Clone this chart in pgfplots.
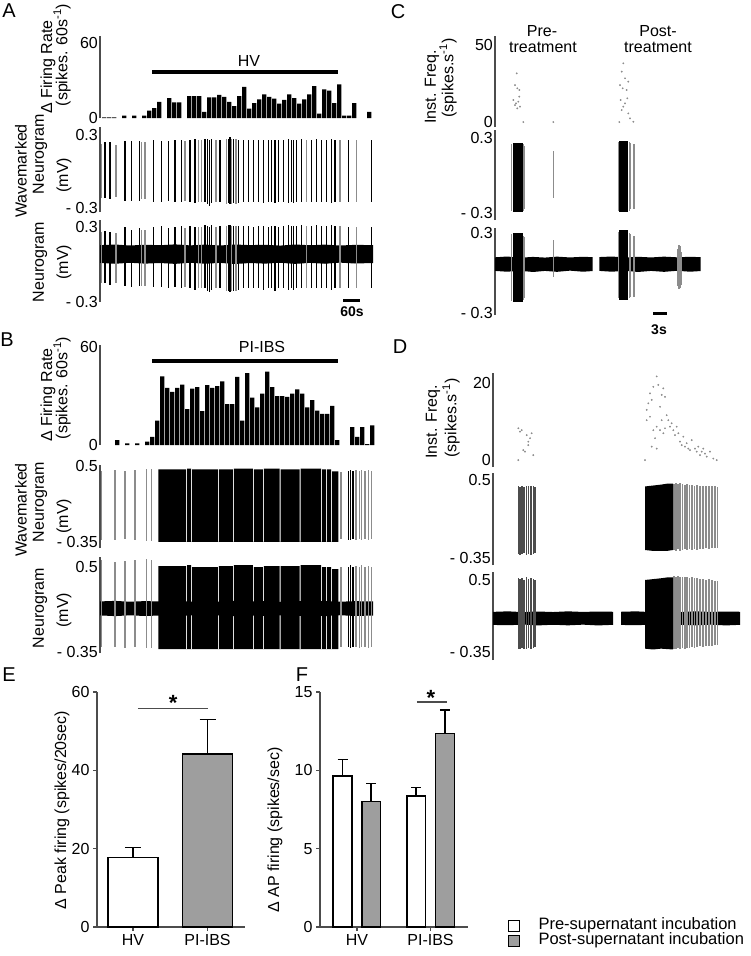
\documentclass[border=0pt]{standalone}
\usepackage{fontspec}
\setmainfont{Liberation Sans}
\usepackage{pgfplots}
\pgfplotsset{compat=1.18}
\usepackage{pgfplotstable}

\definecolor{postgray}{gray}{0.62}
\definecolor{spkgray}{gray}{0.55}
\definecolor{axgray}{gray}{0.3}

\pgfplotsset{
  every axis/.append style={font=\fontsize{16}{18}\selectfont},
  trace/.style={scale only axis, anchor=south west, axis x line=none, axis y line*=left,
    axis line style={line width=1.3pt, axgray}, major tick length=0pt,
    yticklabel style={inner sep=2pt}, /pgf/number format/assume math mode=true, xmin=0},
  spk/.style={ycomb, mark=none, line width=1.5pt, black},
  lspk/.style={ycomb, mark=none, line width=1.1pt, spkgray},
  band/.style={fill=black, draw=none},
  dots/.style={only marks, mark=*, mark size=0.7pt, spkgray},
  errb/.style={error bars/.cd, y dir=plus, y explicit, error mark=-,
    error mark options={rotate=90, mark size=#1, line width=1.5pt},
    error bar style={line width=1.5pt}},
}

% firing rate bins (x = time offset, h = spikes)
\pgfplotstableread{
t h
4.2 0.5
9.2 0.5
14.2 0.5
24.2 2
34.2 2
44.2 2
49.2 6
54.2 8
59.2 13
69.2 16
74.2 12.5
79.2 12.5
89.2 17.5
94.2 17.5
99.2 17.5
104.2 5
109.2 16.5
114.2 16.5
119.2 18.5
124.2 17
129.2 13
134.2 9.5
139.2 17.5
144.2 25
149.2 7.5
154.2 12
159.2 15
164.2 19
169.2 17
174.2 15.5
179.2 11.5
184.2 14.5
189.2 19
194.2 16
199.2 11.5
204.2 15
209.2 19
214.2 25.5
219.2 3.5
224.2 23
229.2 22
234.2 12
239.2 27
244.2 2
249.2 2
254.2 12
269.2 5
}\Arate

\pgfplotstableread{
t h
17.2 3
27.2 1
37.2 1
47.2 2
52.2 5
57.2 15
62.2 42
67.2 35
72.2 32.5
77.2 35
82.2 37
87.2 22
92.2 34.5
97.2 35.5
102.2 20.7
107.2 36.6
112.2 35
117.2 36
122.2 39
127.2 25
132.2 25
137.2 41.7
142.2 15
147.2 44
152.2 29
157.2 23
162.2 31.5
167.2 45
172.2 35.5
177.2 30
182.2 30
187.2 29.5
192.2 31.5
197.2 34
202.2 31.5
207.2 23
212.2 27.5
217.2 21
222.2 19
227.2 19
232.2 24
237.2 3
252.2 11
257.2 5
262.2 11
267.2 0.5
272.2 12
}\Brate

% spikes: wh/wl wavemarked top/bottom, nh/nl neurogram top/bottom
\pgfplotstableread{
t wh wl nh nl
5 0.24 -0.22 0.27 -0.15
10 0.24 -0.23 0.26 -0.16
25 0.25 -0.24 0.30 -0.17
31.7 0.25 -0.24 0.28 -0.18
39.3 0.25 -0.24 0.29 -0.17
53.3 0.26 -0.25 0.30 -0.18
61.7 0.25 -0.25 0.31 -0.18
68.3 0.25 -0.24 0.29 -0.19
75 0.26 -0.25 0.30 -0.18
81.7 0.26 -0.25 0.31 -0.19
90 0.26 -0.25 0.31 -0.19
95 0.27 -0.26 0.30 -0.20
105 0.27 -0.25 0.32 -0.19
107.3 0.27 -0.27 0.31 -0.21
109.3 0.26 -0.28 0.30 -0.22
111.7 0.27 -0.26 0.32 -0.20
120 0.26 -0.25 0.31 -0.19
128.3 0.27 -0.26 0.32 -0.21
130 0.28 -0.27 0.32 -0.22
133.3 0.27 -0.26 0.31 -0.21
138.3 0.26 -0.26 0.31 -0.20
143.3 0.26 -0.25 0.31 -0.19
148.3 0.26 -0.25 0.31 -0.19
153.3 0.26 -0.25 0.30 -0.19
158.3 0.26 -0.25 0.31 -0.19
163.3 0.26 -0.26 0.31 -0.20
168.3 0.26 -0.25 0.30 -0.19
171.7 0.26 -0.25 0.31 -0.19
175 0.26 -0.26 0.31 -0.21
178.3 0.26 -0.25 0.30 -0.19
183.3 0.26 -0.25 0.31 -0.19
188.3 0.27 -0.26 0.32 -0.20
191.7 0.26 -0.25 0.31 -0.19
193.3 0.26 -0.26 0.31 -0.20
196.7 0.26 -0.25 0.31 -0.19
201.7 0.27 -0.25 0.32 -0.19
211.7 0.26 -0.25 0.31 -0.19
216.7 0.27 -0.25 0.32 -0.19
221.7 0.26 -0.25 0.31 -0.19
226.7 0.26 -0.25 0.31 -0.19
231.7 0.27 -0.26 0.32 -0.20
235 0.26 -0.25 0.31 -0.19
248.3 0.26 -0.25 0.30 -0.19
271.7 0.26 -0.25 0.30 -0.19
}\Aspk

\pgfplotstableread{
t wh wl nh nl
1.7 0.23 -0.22 0.26 -0.15
16 0.22 -0.21 0.25 -0.15
41.7 0.24 -0.23 0.28 -0.17
45 0.24 -0.23 0.28 -0.17
85 0.25 -0.24 0.29 -0.18
98.3 0.26 -0.25 0.30 -0.19
101.7 0.26 -0.25 0.30 -0.19
116 0.26 -0.25 0.30 -0.19
126.7 0.27 -0.27 0.31 -0.21
131.7 0.27 -0.27 0.31 -0.21
136 0.27 -0.27 0.31 -0.21
206.7 0.26 -0.25 0.31 -0.19
240 0.26 -0.25 0.31 -0.19
256.7 0.26 -0.25 0.30 -0.19
}\Alt

\pgfplotstableread{
t wh wl nh nl
1.7 0.44 -0.33 0.57 -0.30
15 0.45 -0.33 0.55 -0.30
25 0.44 -0.32 0.56 -0.31
35 0.45 -0.33 0.57 -0.30
46.7 0.46 -0.34 0.58 -0.31
51.7 0.46 -0.34 0.57 -0.31
241 0.43 -0.32 0.50 -0.30
256 0.45 -0.33 0.51 -0.30
259.3 0.44 -0.32 0.50 -0.31
261.7 0.45 -0.33 0.52 -0.30
265 0.44 -0.32 0.50 -0.30
268.3 0.45 -0.33 0.51 -0.31
271.7 0.44 -0.32 0.50 -0.30
}\Blt

\pgfplotstableread{
t wh wl nh nl
248.3 0.44 -0.33 0.50 -0.30
250.5 0.45 -0.33 0.52 -0.31
253 0.44 -0.32 0.50 -0.30
}\Bspk

\pgfplotstableread{
t wh wl nh nl
16.9 0.25 -0.28 0.29 -0.21
28.5 0.25 -0.28 0.28 -0.20
29.5 0.24 -0.27 0.27 -0.19
58.3 0.20 -0.18 0.25 -0.03
123.5 0.27 -0.28 0.31 -0.19
134.2 0.27 -0.28 0.30 -0.19
135.2 0.26 -0.27 0.29 -0.18
139 0.25 -0.27 0.28 -0.18
183 0 0 0.18 -0.10
184 0 0 0.21 -0.12
185 0 0 0.20 -0.11
186 0 0 0.16 -0.09
}\Clt

\pgfplotstableread{
t f
18.3 14.3
20 24
20 11
21 12.1
21.7 31.6
22.3 21.9
22.3 8.9
23.3 13.2
24.3 20.8
24.3 16.5
25 10
28.3 0
58.3 0
124.3 0
125 24
125.7 14.3
126.7 32.7
126.7 7.8
127.7 21.9
128.3 38.1
128.3 10
130 28.4
130 12.1
131.7 20.8
132.3 15.4
133.3 26.2
133.3 5.6
135 2.4
138.3 0.2
}\Cfreq

\pgfplotstableread{
t wh wl nh nl
25.5 0.43 -0.30 0.52 -0.31
27.2 0.42 -0.31 0.51 -0.32
29 0.43 -0.30 0.52 -0.30
31 0.42 -0.29 0.50 -0.31
33.3 0.44 -0.31 0.53 -0.32
35.6 0.43 -0.30 0.51 -0.30
38 0.44 -0.31 0.52 -0.31
40.3 0.43 -0.30 0.51 -0.30
42 0.42 -0.29 0.50 -0.29
}\Dpre

\pgfplotstableread{
t wh wl nh nl
181 0.46 -0.26 0.55 -0.31
183 0.47 -0.27 0.54 -0.32
185 0.46 -0.25 0.55 -0.30
187 0.47 -0.27 0.54 -0.31
189.5 0.46 -0.26 0.53 -0.30
192 0.45 -0.25 0.54 -0.31
194 0.46 -0.26 0.53 -0.30
196.5 0.45 -0.25 0.52 -0.30
199 0.45 -0.26 0.53 -0.29
201.5 0.44 -0.25 0.52 -0.30
204 0.45 -0.26 0.52 -0.29
207 0.44 -0.25 0.51 -0.28
210 0.44 -0.25 0.51 -0.29
213 0.43 -0.24 0.50 -0.28
216 0.44 -0.25 0.51 -0.28
219 0.43 -0.24 0.50 -0.28
222 0.43 -0.24 0.49 -0.27
224.5 0.42 -0.24 0.49 -0.27
}\Dlt

\pgfplotstableread{
t f
25.3 8.3
25.3 0
27 7.4
28.7 7.8
30.3 2.6
32 2.2
33.7 6.5
35.3 4.8
35.3 3.9
37 5.7
38.7 7.0
40.3 1.3
152 0
153.7 13.1
153.7 10.4
155.3 14.8
157 17.4
157 11.3
158.7 15.7
158.7 3.5
160.3 19.1
160.3 7.8
162 5.7
163.7 21.8
163.7 8.7
163.7 3.0
165.3 19.6
167 13.9
167 7.8
168.7 17
168.7 10.4
170.3 18.7
170.3 7.0
172 16.5
172 8.3
173.7 11.7
175.3 10.4
177 8.7
178.7 9.6
180.3 7.8
182 6.5
183.7 8.7
185.3 7.0
187 4.8
188.7 3.9
190.3 6.1
192 3.5
193.7 4.4
195.3 3.0
197 2.6
198.7 5.2
202 3.0
203.7 2.2
205.3 3.5
207 1.3
208.7 2.2
210.3 3.0
212 1.7
213.7 0.9
217 2.2
220.3 0.4
223.7 0
}\Dfreq

\begin{document}
\begin{tikzpicture}
\useasboundingbox (0pt,0pt) rectangle (750pt,-956pt);
\tikzset{lab/.style={font=\fontsize{16}{18}\selectfont, rotate=90, inner sep=0pt},
         letter/.style={font=\fontsize{20}{22}\selectfont}}

% ---------------- A ----------------
\node[letter] at (9pt,-11pt) {A};
\begin{axis}[trace, at={(100pt,-118pt)}, width=273pt, height=82.5pt, xmax=273,
  ymin=0, ymax=66, ytick={0,60}, clip=false]
\addplot[ybar, bar width=4.3, fill=black, draw=none] table[x=t,y=h] {\Arate};
\addplot[line width=4pt, black] coordinates {(52,36.8) (238,36.8)};
\node at (axis cs:149,46) {HV};
\end{axis}
\begin{axis}[trace, at={(100pt,-212pt)}, width=273pt, height=85pt, xmax=273,
  ymin=-0.333, ymax=0.366, ytick={-0.3,0.3}, yticklabels={- 0.3, 0.3}]
\addplot[lspk] table[x=t,y=wh] {\Alt};
\addplot[lspk] table[x=t,y=wl] {\Alt};
\addplot[spk] table[x=t,y=wh] {\Aspk};
\addplot[spk] table[x=t,y=wl] {\Aspk};
\end{axis}
\begin{axis}[trace, at={(100pt,-302pt)}, width=273pt, height=82.5pt, xmax=273,
  ymin=-0.3, ymax=0.36, ytick={-0.3,0.3}, yticklabels={- 0.3, 0.3}]
\addplot[band] coordinates {(0,0.013)(0,0.155)(15,0.16)(30,0.152)(45,0.158)(60,0.154)(75,0.161)(90,0.153)(105,0.159)(120,0.152)(135,0.16)(150,0.155)(165,0.158)(180,0.151)(195,0.16)(210,0.154)(225,0.159)(240,0.152)(255,0.157)(273,0.155)(273,0.012)(255,0.008)(240,0.015)(225,0.006)(210,0.013)(195,0.005)(180,0.014)(165,0.007)(150,0.012)(135,0.004)(120,0.013)(105,0.006)(90,0.014)(75,0.005)(60,0.012)(45,0.007)(30,0.014)(15,0.006)};
\addplot[lspk] table[x=t,y=nh] {\Alt};
\addplot[lspk] table[x=t,y=nl] {\Alt};
\addplot[spk] table[x=t,y=nh] {\Aspk};
\addplot[spk] table[x=t,y=nl] {\Aspk};
\end{axis}
\node[lab] at (48pt,-67pt) {Δ Firing Rate};
\node[lab] at (62pt,-55pt) {(spikes. 60s\textsuperscript{-1})};
\node[lab] at (21pt,-171pt) {Wavemarked};
\node[lab] at (40pt,-154pt) {Neurogram};
\node[lab] at (64pt,-175pt) {(mV)};
\node[lab] at (40pt,-262pt) {Neurogram};
\node[lab] at (64pt,-262pt) {(mV)};
\draw[line width=3pt] (343pt,-300pt) -- (360pt,-300pt);
\node[font=\bfseries\fontsize{14}{16}\selectfont] at (352pt,-312pt) {60s};

% ---------------- B ----------------
\node[letter] at (7pt,-340pt) {B};
\begin{axis}[trace, at={(100pt,-445pt)}, width=273pt, height=99.6pt, xmax=273,
  ymin=0, ymax=61, ytick={0,60}, clip=false]
\addplot[ybar, bar width=4.3, fill=black, draw=none] table[x=t,y=h] {\Brate};
\addplot[line width=4pt, black] coordinates {(52,51.4) (238,51.4)};
\node at (axis cs:162,60) {PI-IBS};
\end{axis}
\begin{axis}[trace, at={(100pt,-548pt)}, width=273pt, height=83pt, xmax=273,
  ymin=-0.42, ymax=0.51, ytick={-0.35,0.5}, yticklabels={- 0.35, 0.5}]
\addplot[lspk] table[x=t,y=wh] {\Blt};
\addplot[lspk] table[x=t,y=wl] {\Blt};
\addplot[spk] table[x=t,y=wh] {\Bspk};
\addplot[spk] table[x=t,y=wl] {\Bspk};
\addplot[band] coordinates {(58.3,-0.35)(58.3,0.46)(86.2,0.46)(86.2,-0.35)(87.2,-0.35)(87.2,0.47)(91.2,0.47)(91.2,-0.35)(92.2,-0.35)(92.2,0.46)(117.8,0.46)(117.8,-0.35)(118.8,-0.35)(118.8,0.46)(132.8,0.46)(132.8,-0.35)(133.8,-0.35)(133.8,0.47)(152.8,0.47)(152.8,-0.35)(153.8,-0.35)(153.8,0.46)(162.8,0.46)(162.8,-0.35)(163.8,-0.35)(163.8,0.47)(179.5,0.47)(179.5,-0.35)(180.5,-0.35)(180.5,0.46)(199.5,0.46)(199.5,-0.35)(200.5,-0.35)(200.5,0.47)(221.2,0.47)(221.2,-0.35)(222.2,-0.35)(222.2,0.46)(226.2,0.46)(226.2,-0.35)(227.2,-0.35)(227.2,0.46)(231.2,0.46)(231.2,-0.35)(232.2,-0.35)(232.2,0.44)(238.3,0.44)(238.3,-0.35)};
\end{axis}
\begin{axis}[trace, at={(100pt,-653pt)}, width=273pt, height=96pt, xmax=273,
  ymin=-0.36, ymax=0.6, ytick={-0.35,0.5}, yticklabels={- 0.35, 0.5}]
\addplot[band] coordinates {(0,0.016)(0,0.156)(15,0.161)(30,0.153)(45,0.159)(60,0.155)(75,0.162)(90,0.154)(105,0.16)(120,0.153)(135,0.161)(150,0.156)(165,0.159)(180,0.152)(195,0.161)(210,0.155)(225,0.16)(240,0.153)(255,0.158)(273,0.156)(273,0.015)(255,0.01)(240,0.018)(225,0.009)(210,0.016)(195,0.008)(180,0.017)(165,0.01)(150,0.015)(135,0.007)(120,0.016)(105,0.009)(90,0.017)(75,0.008)(60,0.015)(45,0.01)(30,0.017)(15,0.009)};
\addplot[lspk] table[x=t,y=nh] {\Blt};
\addplot[lspk] table[x=t,y=nl] {\Blt};
\addplot[spk] table[x=t,y=nh] {\Bspk};
\addplot[spk] table[x=t,y=nl] {\Bspk};
\addplot[band] coordinates {(58.3,-0.32)(58.3,0.51)(86.2,0.51)(86.2,-0.32)(87.2,-0.32)(87.2,0.52)(91.2,0.52)(91.2,-0.32)(92.2,-0.32)(92.2,0.50)(117.8,0.50)(117.8,-0.32)(118.8,-0.32)(118.8,0.51)(132.8,0.51)(132.8,-0.32)(133.8,-0.32)(133.8,0.52)(152.8,0.52)(152.8,-0.32)(153.8,-0.32)(153.8,0.50)(162.8,0.50)(162.8,-0.32)(163.8,-0.32)(163.8,0.51)(179.5,0.51)(179.5,-0.32)(180.5,-0.32)(180.5,0.51)(199.5,0.51)(199.5,-0.32)(200.5,-0.32)(200.5,0.52)(221.2,0.52)(221.2,-0.32)(222.2,-0.32)(222.2,0.50)(226.2,0.50)(226.2,-0.32)(227.2,-0.32)(227.2,0.50)(231.2,0.50)(231.2,-0.32)(232.2,-0.32)(232.2,0.48)(238.3,0.48)(238.3,-0.32)};
\end{axis}
\node[lab] at (48pt,-395pt) {Δ Firing Rate};
\node[lab] at (62pt,-388pt) {(spikes. 60s\textsuperscript{-1})};
\node[lab] at (21pt,-510pt) {Wavemarked};
\node[lab] at (40pt,-502pt) {Neurogram};
\node[lab] at (64pt,-516pt) {(mV)};
\node[lab] at (40pt,-608pt) {Neurogram};
\node[lab] at (64pt,-610pt) {(mV)};

% ---------------- C ----------------
\node[letter] at (398pt,-12pt) {C};
\node at (542pt,-31pt) {\fontsize{16}{18}\selectfont Pre-};
\node at (543pt,-47pt) {\fontsize{16}{18}\selectfont treatment};
\node at (658pt,-31pt) {\fontsize{16}{18}\selectfont Post-};
\node at (658pt,-47pt) {\fontsize{16}{18}\selectfont treatment};
\begin{axis}[trace, at={(495pt,-127pt)}, width=206pt, height=91pt, xmax=206,
  ymin=-3.2, ymax=55.8, ytick={0,50}]
\addplot[dots] table[x=t,y=f] {\Cfreq};
\end{axis}
\begin{axis}[trace, at={(495pt,-220pt)}, width=206pt, height=90pt, xmax=206,
  ymin=-0.356, ymax=0.364, ytick={-0.3,0.3}, yticklabels={- 0.3, 0.3}]
\addplot[lspk] table[x=t,y=wh] {\Clt};
\addplot[lspk] table[x=t,y=wl] {\Clt};
\addplot[band] coordinates {(17.7,-0.29)(17.7,0.257)(27.7,0.257)(27.7,-0.29)};
\addplot[band] coordinates {(124.3,-0.29)(124.3,0.28)(133.3,0.28)(133.3,-0.29)};
\end{axis}
\begin{axis}[trace, at={(495pt,-315pt)}, width=206pt, height=87pt, xmax=206,
  ymin=-0.315, ymax=0.338, ytick={-0.3,0.3}, yticklabels={- 0.3, 0.3}]
\addplot[band] coordinates {(0,0.016)(0,0.118)(12,0.124)(25,0.115)(38,0.121)(50,0.116)(62,0.123)(75,0.117)(88,0.122)(97.7,0.119)(97.7,0.015)(88,0.01)(75,0.018)(62,0.009)(50,0.016)(38,0.008)(25,0.017)(12,0.01)};
\addplot[band] coordinates {(104.3,0.016)(104.3,0.12)(117,0.124)(130,0.116)(143,0.122)(156,0.117)(169,0.123)(182,0.118)(195,0.122)(205.7,0.119)(205.7,0.015)(195,0.01)(182,0.017)(169,0.009)(156,0.016)(143,0.008)(130,0.017)(117,0.01)};
\addplot[lspk] table[x=t,y=nh] {\Clt};
\addplot[lspk] table[x=t,y=nl] {\Clt};
\addplot[band] coordinates {(17.7,-0.22)(17.7,0.30)(27.7,0.30)(27.7,-0.22)};
\addplot[band] coordinates {(124.3,-0.20)(124.3,0.32)(133.3,0.32)(133.3,-0.20)};
\end{axis}
\node[lab] at (432pt,-87pt) {Inst. Freq.};
\node[lab] at (448pt,-78pt) {(spikes.s\textsuperscript{-1})};
\draw[line width=3pt] (653pt,-313pt) -- (667pt,-313pt);
\node[font=\bfseries\fontsize{14}{16}\selectfont] at (659pt,-330pt) {3s};

% ---------------- D ----------------
\node[letter] at (400pt,-347pt) {D};
\begin{axis}[trace, at={(493pt,-467pt)}, width=247pt, height=94pt, xmax=247,
  ymin=-1.8, ymax=22.7, ytick={0,20}]
\addplot[dots] table[x=t,y=f] {\Dfreq};
\end{axis}
\begin{axis}[trace, at={(493pt,-565pt)}, width=247pt, height=92pt, xmax=247,
  ymin=-0.423, ymax=0.576, ytick={-0.35,0.5}, yticklabels={- 0.35, 0.5}]
\addplot[spk, black!70] table[x=t,y=wh] {\Dpre};
\addplot[spk, black!70] table[x=t,y=wl] {\Dpre};
\addplot[lspk] table[x=t,y=wh] {\Dlt};
\addplot[lspk] table[x=t,y=wl] {\Dlt};
\addplot[band] coordinates {(152,-0.26)(152,0.43)(160,0.44)(168,0.45)(174,0.46)(180,0.46)(180,-0.26)(174,-0.27)(160,-0.27)};
\end{axis}
\begin{axis}[trace, at={(493pt,-660pt)}, width=247pt, height=88pt, xmax=247,
  ymin=-0.444, ymax=0.594, ytick={-0.35,0.5}, yticklabels={- 0.35, 0.5}]
\addplot[band] coordinates {(0,-0.03)(0,0.124)(15,0.13)(30,0.121)(45,0.128)(60,0.122)(75,0.13)(90,0.123)(105,0.128)(120,0.125)(120,-0.029)(105,-0.036)(90,-0.027)(75,-0.035)(60,-0.028)(45,-0.036)(30,-0.026)(15,-0.034)};
\addplot[band] coordinates {(128,-0.03)(128,0.125)(143,0.13)(158,0.121)(173,0.129)(188,0.122)(203,0.13)(218,0.123)(233,0.128)(247,0.125)(247,-0.029)(233,-0.036)(218,-0.027)(203,-0.035)(188,-0.028)(173,-0.036)(158,-0.026)(143,-0.034)};
\addplot[spk, black!70] table[x=t,y=nh] {\Dpre};
\addplot[spk, black!70] table[x=t,y=nl] {\Dpre};
\addplot[lspk] table[x=t,y=nh] {\Dlt};
\addplot[lspk] table[x=t,y=nl] {\Dlt};
\addplot[band] coordinates {(152,-0.31)(152,0.50)(160,0.51)(168,0.52)(174,0.53)(180,0.53)(180,-0.32)(168,-0.31)(160,-0.32)};
\end{axis}
\node[lab] at (433pt,-422pt) {Inst. Freq.};
\node[lab] at (451pt,-418pt) {(spikes.s\textsuperscript{-1})};

% ---------------- E ----------------
\node[letter] at (9pt,-675pt) {E};
\begin{axis}[scale only axis, anchor=south west, at={(97pt,-927pt)}, width=148pt, height=235pt,
  xmin=-0.483, xmax=1.503, ymin=0, ymax=60,
  axis x line*=bottom, axis y line*=left,
  axis line style={line width=1.2pt, axgray}, tick style={line width=1.2pt, axgray},
  tick align=outside, major tick length=4pt,
  xtick={0,1}, xticklabels={HV,PI-IBS}, ytick={0,20,40,60},
  /pgf/number format/assume math mode=true, clip=false]
\addplot[ybar, bar width=0.67, fill=white, draw=black, line width=1.5pt, errb=8pt]
  coordinates {(0,17.8) +- (0,2.5)};
\addplot[ybar, bar width=0.67, fill=postgray, draw=black, line width=1.5pt, errb=8pt]
  coordinates {(1,44.2) +- (0,8.8)};
\draw[line width=1.2pt, axgray] (axis cs:0.067,55.7) -- (axis cs:1.007,55.7);
\node[font=\bfseries\fontsize{22}{22}\selectfont] at (axis cs:0.54,57.3) {*};
\end{axis}
\node[lab] at (62pt,-810pt) {Δ Peak firing (spikes/20sec)};

% ---------------- F ----------------
\node[letter] at (302pt,-675pt) {F};
\begin{axis}[scale only axis, anchor=south west, at={(320pt,-927pt)}, width=148pt, height=235pt,
  xmin=-0.503, xmax=1.51, ymin=0, ymax=15,
  axis x line*=bottom, axis y line*=left,
  axis line style={line width=1.2pt, axgray}, tick style={line width=1.2pt, axgray},
  tick align=outside, major tick length=4pt,
  xtick={0,1}, xticklabels={HV,PI-IBS}, ytick={0,5,10,15},
  /pgf/number format/assume math mode=true, clip=false]
\addplot[ybar, bar width=0.258, fill=white, draw=black, line width=1.5pt, errb=5pt]
  coordinates {(-0.194,9.65) +- (0,1.05) (0.806,8.35) +- (0,0.55)};
\addplot[ybar, bar width=0.258, fill=postgray, draw=black, line width=1.5pt, errb=5pt]
  coordinates {(0.194,8.0) +- (0,1.15) (1.194,12.35) +- (0,1.5)};
\draw[line width=1.2pt, axgray] (axis cs:0.816,14.36) -- (axis cs:1.224,14.36);
\node[font=\bfseries\fontsize{22}{22}\selectfont] at (axis cs:1.007,14.6) {*};
\end{axis}
\node[lab] at (275pt,-830pt) {Δ AP firing (spikes/sec)};

% legend
\draw[line width=1pt, fill=white] (508pt,-920pt) rectangle (519pt,-931pt);
\draw[line width=1pt, fill=postgray] (508pt,-935pt) rectangle (519pt,-946pt);
\node[anchor=west, font=\fontsize{16.5}{18}\selectfont] at (535pt,-925.5pt) {Pre-supernatant incubation};
\node[anchor=west, font=\fontsize{16.5}{18}\selectfont] at (535pt,-940.5pt) {Post-supernatant incubation};
\end{tikzpicture}
\end{document}
